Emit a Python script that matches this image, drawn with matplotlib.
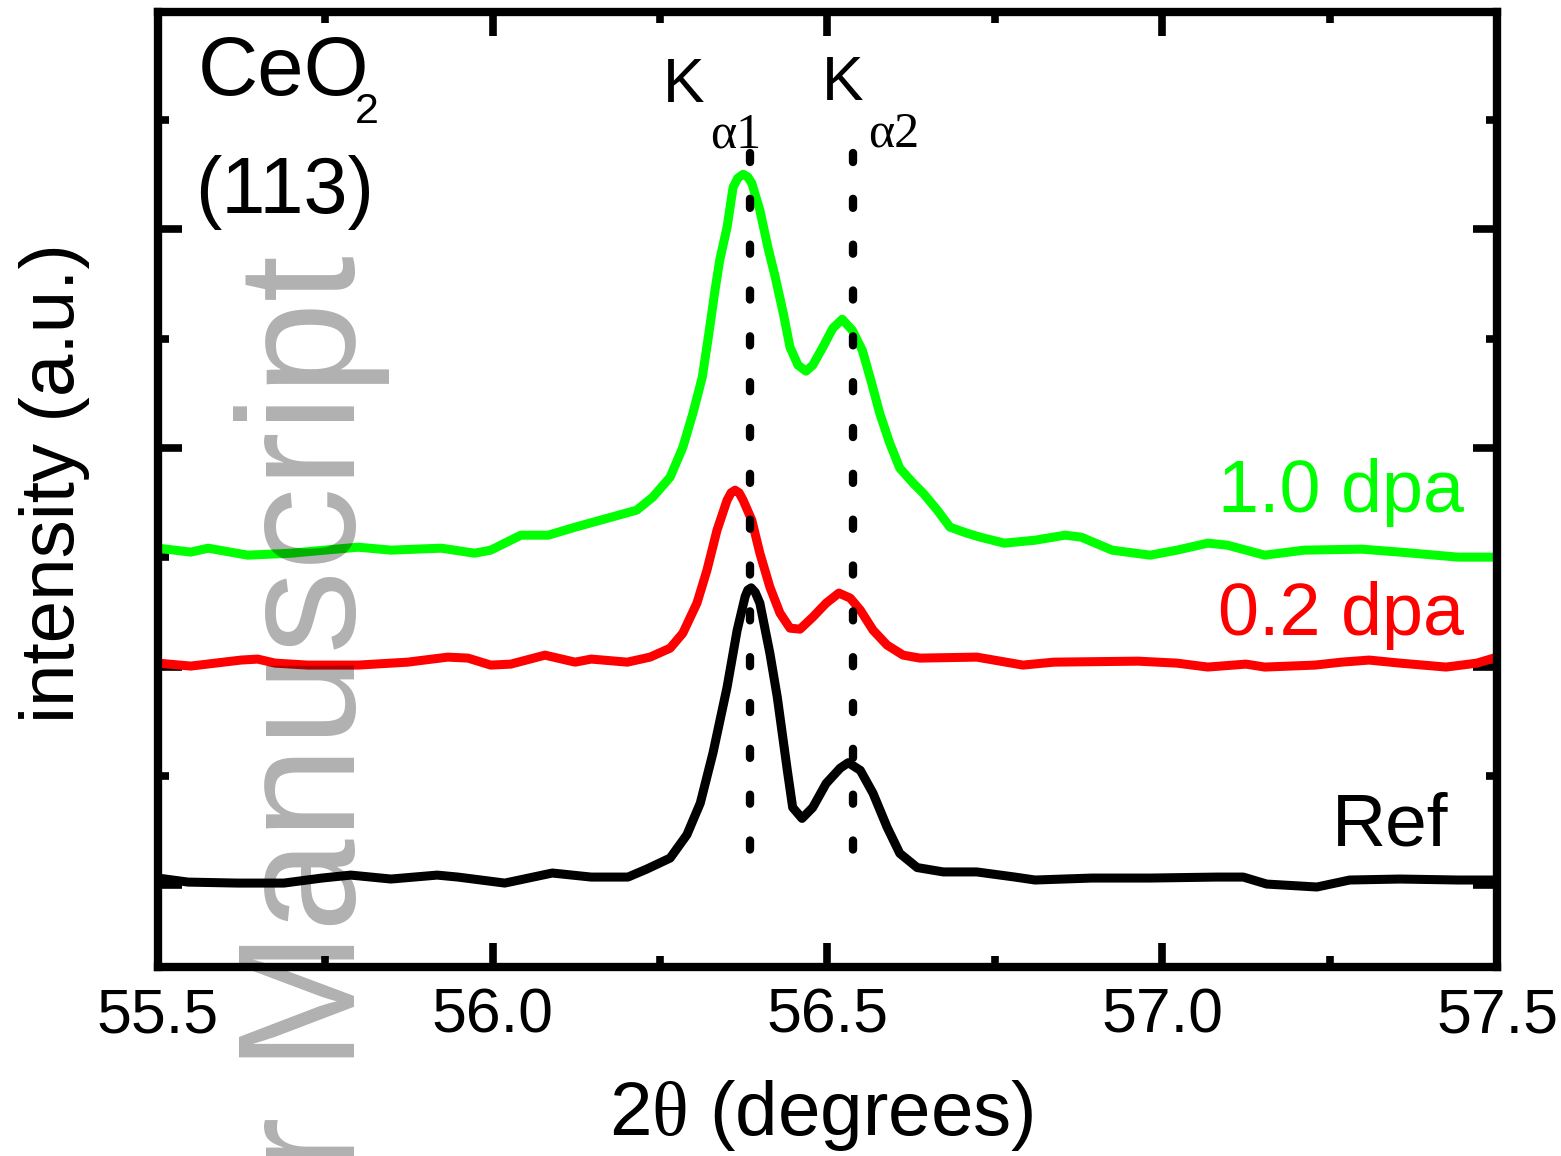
import matplotlib
matplotlib.use('Agg')
import matplotlib.pyplot as plt
from matplotlib.ticker import MultipleLocator

plt.rcParams['font.family'] = ['Liberation Sans', 'DejaVu Sans']
plt.rcParams['mathtext.fontset'] = 'custom'
plt.rcParams['mathtext.rm'] = 'Liberation Serif'
plt.rcParams['mathtext.it'] = 'Liberation Serif'
plt.rcParams['mathtext.default'] = 'rm'
plt.rcParams['lines.scale_dashes'] = False

# Ref (black)
ref_x = [55.500, 55.545, 55.619, 55.688, 55.745, 55.788, 55.848, 55.917, 55.948, 56.018,
         56.089, 56.147, 56.202, 56.230, 56.265, 56.290, 56.310, 56.329, 56.350, 56.365,
         56.377, 56.381, 56.386, 56.392, 56.399, 56.414, 56.425, 56.440, 56.448, 56.462,
         56.478, 56.498, 56.519, 56.531, 56.549, 56.568, 56.589, 56.608, 56.634, 56.673,
         56.723, 56.780, 56.810, 56.895, 56.982, 57.082, 57.121, 57.156, 57.231, 57.280,
         57.355, 57.442, 57.500]
ref_y = [0.064, 0.027, 0.018, 0.018, 0.064, 0.091, 0.055, 0.091, 0.073, 0.018,
         0.110, 0.073, 0.073, 0.146, 0.247, 0.46, 0.75, 1.21, 1.81, 2.33,
         2.64, 2.70, 2.72, 2.68, 2.58, 2.12, 1.72, 1.05, 0.71, 0.61,
         0.71, 0.93, 1.07, 1.12, 1.05, 0.84, 0.53, 0.29, 0.16, 0.12,
         0.12, 0.073, 0.046, 0.064, 0.064, 0.073, 0.073, 0.009, -0.018, 0.046,
         0.055, 0.046, 0.046]

# 0.2 dpa (red)
d02_x = [55.500, 55.549, 55.624, 55.649, 55.675, 55.724, 55.799, 55.873, 55.933, 55.963,
         55.997, 56.027, 56.078, 56.123, 56.147, 56.201, 56.235, 56.265, 56.284, 56.305,
         56.320, 56.335, 56.350, 56.356, 56.362, 56.368, 56.374, 56.387, 56.399, 56.414,
         56.429, 56.444, 56.459, 56.478, 56.498, 56.517, 56.534, 56.549, 56.568, 56.589,
         56.613, 56.638, 56.723, 56.792, 56.838, 56.964, 57.022, 57.068, 57.125, 57.153,
         57.228, 57.268, 57.309, 57.355, 57.424, 57.470, 57.500]
d02_y = [2.031, 2.004, 2.059, 2.068, 2.031, 2.013, 2.013, 2.040, 2.086, 2.077,
         2.013, 2.022, 2.104, 2.040, 2.068, 2.040, 2.086, 2.168, 2.306, 2.580,
         2.882, 3.248, 3.522, 3.59, 3.614, 3.59, 3.522, 3.339, 3.037, 2.726,
         2.489, 2.351, 2.342, 2.452, 2.580, 2.672, 2.626, 2.516, 2.333, 2.196,
         2.104, 2.077, 2.086, 2.013, 2.040, 2.049, 2.031, 1.995, 2.022, 1.995,
         2.013, 2.040, 2.059, 2.031, 1.995, 2.031, 2.086]

# 1.0 dpa (green)
d10_x = [55.500, 55.549, 55.575, 55.634, 55.699, 55.749, 55.799, 55.848, 55.923, 55.973,
         55.997, 56.042, 56.083, 56.123, 56.172, 56.215, 56.239, 56.265, 56.284, 56.299,
         56.313, 56.322, 56.332, 56.339, 56.350, 56.359, 56.366, 56.374, 56.381, 56.387,
         56.399, 56.411, 56.422, 56.434, 56.444, 56.456, 56.468, 56.478, 56.493, 56.508,
         56.522, 56.537, 56.552, 56.566, 56.578, 56.593, 56.608, 56.628, 56.643, 56.664,
         56.683, 56.708, 56.728, 56.764, 56.810, 56.855, 56.879, 56.925, 56.982, 57.022,
         57.068, 57.097, 57.153, 57.212, 57.298, 57.355, 57.442, 57.500]
d10_y = [3.083, 3.047, 3.083, 3.019, 3.037, 3.065, 3.092, 3.065, 3.083, 3.037,
         3.065, 3.202, 3.202, 3.275, 3.358, 3.431, 3.550, 3.733, 4.007, 4.318,
         4.648, 5.014, 5.444, 5.718, 6.020, 6.386, 6.47, 6.505, 6.48, 6.423,
         6.176, 5.837, 5.563, 5.233, 4.922, 4.758, 4.703, 4.758, 4.922, 5.096,
         5.178, 5.078, 4.895, 4.593, 4.318, 4.044, 3.815, 3.678, 3.586, 3.431,
         3.275, 3.221, 3.184, 3.129, 3.156, 3.202, 3.184, 3.065, 3.019, 3.065,
         3.129, 3.111, 3.019, 3.065, 3.074, 3.047, 3.001, 3.001]

ka_pos = [56.384, 56.538]
ka_top = 6.70

fig = plt.figure(figsize=(15.61, 11.56), dpi=100)
ax = fig.add_axes([0.1012, 0.1635, 0.8578, 0.8261])

lw = 6.5
for xs, ys, c in [(ref_x, ref_y, 'black'), (d02_x, d02_y, '#ff0000'), (d10_x, d10_y, '#00ff00')]:
    ax.plot(xs, ys, color=c, lw=lw, solid_joinstyle='round', solid_capstyle='butt')

for xp in ka_pos:
    ax.plot([xp, xp], [ka_top, 0], color='black', lw=6.0,
            dashes=(6.5, 26.5), dash_capstyle='round')

ax.set_xlim(55.5, 57.5)
ax.set_ylim(-0.75, 7.99)
ax.xaxis.set_major_locator(MultipleLocator(0.5))
ax.xaxis.set_minor_locator(MultipleLocator(0.25))
ax.yaxis.set_major_locator(MultipleLocator(2))
ax.yaxis.set_minor_locator(MultipleLocator(1))
ax.set_xticks([55.5, 56.0, 56.5, 57.0, 57.5])
ax.set_xticklabels(['55.5', '56.0', '56.5', '57.0', '57.5'])
ax.tick_params(which='both', direction='in', top=True, right=True, width=5.5,
               labelsize=45, pad=14)
ax.tick_params(which='major', length=17)
ax.tick_params(which='minor', length=8)
ax.tick_params(axis='y', labelleft=False)
for s in ax.spines.values():
    s.set_linewidth(6)

ax.set_xlabel(r'2$\theta$ (degrees)', fontsize=55)
ax.xaxis.set_label_coords(0.495, -0.116)
ax.set_ylabel('intensity (a.u.)', fontsize=55)
ax.yaxis.set_label_coords(-0.051, 0.507)

ax.text(0.030, 0.913, 'CeO', transform=ax.transAxes, fontsize=60)
ax.text(0.147, 0.884, '2', transform=ax.transAxes, fontsize=31)
ax.text(0.028, 0.790, '(113)', transform=ax.transAxes, fontsize=57)
ax.text(0.377, 0.906, 'K', transform=ax.transAxes, fontsize=45)
ax.text(0.412, 0.858, 'α1', transform=ax.transAxes, fontsize=36, family='Liberation Serif')
ax.text(0.496, 0.908, 'K', transform=ax.transAxes, fontsize=45)
ax.text(0.530, 0.859, 'α2', transform=ax.transAxes, fontsize=36, family='Liberation Serif')

ax.text(57.450, 3.41, '1.0 dpa', color='#00ff00', fontsize=53, ha='right', va='baseline')
ax.text(57.450, 2.287, '0.2 dpa', color='#ff0000', fontsize=53, ha='right', va='baseline')
ax.text(57.428, 0.366, 'Ref', color='black', fontsize=54, ha='right', va='baseline')

# watermark
fig.text(234 / 1561, 1 - 255 / 1156, 'Author Manuscript', rotation=90, fontsize=120,
         color='black', alpha=0.31, ha='left', va='top', zorder=10)

fig.savefig('out.png', dpi=100)
